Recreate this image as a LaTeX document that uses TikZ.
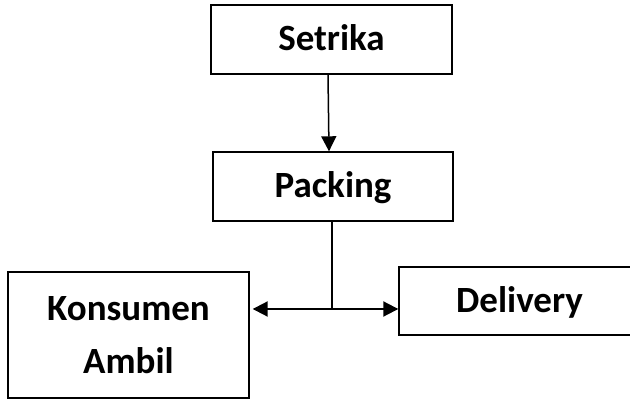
\documentclass[tikz,border=0pt]{standalone}
\usepackage{fontspec}
\setmainfont{Carlito}
\usetikzlibrary{arrows.meta}
\begin{document}
\begin{tikzpicture}[x=1pt,y=-1pt,
  box/.style={draw=black,line width=1.4pt,inner sep=0pt,align=center,
    font=\bfseries\fontsize{37}{53}\selectfont},
  arr/.style={line width=1.5pt,-{Triangle[length=15pt,width=15pt]}},
  dbl/.style={line width=2pt,{Triangle[length=15pt,width=15pt]}-{Triangle[length=15pt,width=15pt]}}]
\useasboundingbox (0,0) rectangle (630,403);
\node[box,minimum width=241pt,minimum height=69pt,text height=23pt,text depth=0pt] (setrika) at (331.5,39.5) {Setrika};
\node[box,minimum width=240pt,minimum height=69pt,text height=23pt,text depth=0pt] (packing) at (333,186.5) {Packing};
\node[box,minimum width=241pt,minimum height=126pt] (konsumen) at (128.5,335) {Konsumen\\Ambil};
\node[box,minimum width=241pt,minimum height=68pt,text height=23pt,text depth=0pt] (delivery) at (519.5,301) {Delivery};
\draw[arr] ([xshift=-3.5pt]setrika.south) -- ([xshift=-4pt]packing.north);
\coordinate (j) at (332,309);
\draw[line width=1.2pt] ([xshift=-1pt]packing.south) -- (j);
\draw[dbl] ([xshift=3pt]konsumen.east |- j) -- (delivery.west |- j);
\end{tikzpicture}
\end{document}
